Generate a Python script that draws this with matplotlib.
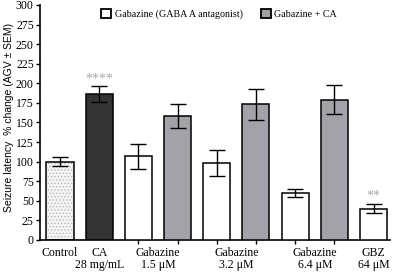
import matplotlib.pyplot as plt
from matplotlib.patches import Patch

# values (% change, mean and SEM)
control_mean, control_sem = 100, 5.5
ca_mean, ca_sem = 186, 10
gabazine_mean = [107, 98, 59.5, 40]
gabazine_sem = [16, 16.5, 5, 6]
gabazine_ca_mean = [158, 173, 179]
gabazine_ca_sem = [15.5, 19.5, 18.5]
tick_labels = ['Control', 'CA', 'Gabazine', 'Gabazine', 'Gabazine', 'GBZ']
tick_sublabels = ['', '28 mg/mL', '1.5 μM', '3.2 μM', '6.4 μM', '64 μM']
yticks = list(range(0, 301, 25))

serif = ['Liberation Serif', 'DejaVu Serif']
plt.rcParams['font.family'] = serif
plt.rcParams['hatch.linewidth'] = 0.6

fig = plt.figure(figsize=(3.97, 2.73), dpi=100)
ax = fig.add_axes([0.1008, 0.1209, 0.8816, 0.861])

w = 0.69
lw = 1.1
ekw = dict(ecolor='black', elinewidth=1.0, capsize=5.5, capthick=1.0, zorder=4)

# control bar: dotted fill then outline
ax.bar(0, control_mean, w, color='#f4f4f4', edgecolor='#b8b8b8', hatch='.....', linewidth=0, zorder=2)
ax.bar(0, control_mean, w, fill=False, edgecolor='black', linewidth=lw, zorder=3)
ax.errorbar(0, control_mean, yerr=control_sem, fmt='none', **ekw)

ax.bar(1, ca_mean, w, color='#333333', edgecolor='black', linewidth=lw, zorder=3)
ax.errorbar(1, ca_mean, yerr=ca_sem, fmt='none', **ekw)

white_x = [2, 4, 6, 8]
grey_x = [3, 5, 7]
ax.bar(white_x, gabazine_mean, w, color='white', edgecolor='black', linewidth=lw, zorder=3)
ax.errorbar(white_x, gabazine_mean, yerr=gabazine_sem, fmt='none', **ekw)
ax.bar(grey_x, gabazine_ca_mean, w, color='#a2a2a8', edgecolor='black', linewidth=lw, zorder=3)
ax.errorbar(grey_x, gabazine_ca_mean, yerr=gabazine_ca_sem, fmt='none', **ekw)

# significance marks
ax.text(1, ca_mean + ca_sem + 1, '****', ha='center', va='bottom', fontsize=10, color='#a8a8b0')
ax.text(8, gabazine_mean[3] + gabazine_sem[3] + 2, '**', ha='center', va='bottom', fontsize=10, color='#a8a8b0')

ax.set_xlim(-0.51, 8.42)
ax.set_ylim(0, 300)
ax.set_yticks(yticks)
label_x = [0, 1, 2.5, 4.5, 6.5, 8]
ax.set_xticks(label_x)
ax.set_xticklabels(tick_labels, va='top')
ax.set_xticks(range(9), minor=True)
ax.tick_params(axis='both', labelsize=8.5, length=3, width=1, direction='out', pad=1.5)
ax.tick_params(axis='x', which='major', length=0, pad=5)
ax.tick_params(axis='x', which='minor', length=3, width=1)
# second line of the x labels
for x, sub in zip(label_x, tick_sublabels):
    if sub:
        ax.annotate(sub, xy=(x, 0), xycoords=('data', 'axes fraction'),
                    xytext=(0, -13.5), textcoords='offset points',
                    ha='center', va='top', fontsize=8.5)
for s in ['top', 'right']:
    ax.spines[s].set_visible(False)
for s in ['left', 'bottom']:
    ax.spines[s].set_linewidth(1.2)

ax.set_ylabel('Seizure latency  % change (AGV ± SEM)', fontsize=7.5,
              family=['Liberation Sans', 'DejaVu Sans'])
ax.yaxis.set_label_coords(-0.074, 0.52)

handles = [Patch(facecolor='white', edgecolor='black', linewidth=1.3),
           Patch(facecolor='#a2a2a8', edgecolor='black', linewidth=1.3)]
ax.legend(handles, ['Gabazine (GABA A antagonist)', 'Gabazine + CA'], ncol=2,
          loc='upper left', bbox_to_anchor=(0.163, 1.0), frameon=False, fontsize=7.2,
          handlelength=1.0, handleheight=1.0, handletextpad=0.35, columnspacing=1.8,
          borderaxespad=0)

fig.savefig('out.png', dpi=100)
